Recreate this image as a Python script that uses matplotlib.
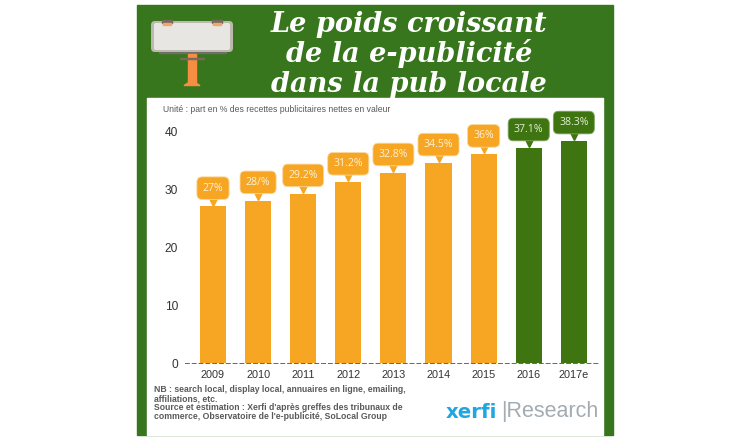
from __future__ import annotations

import matplotlib
matplotlib.use("Agg")
import matplotlib.pyplot as plt
from matplotlib.patches import FancyBboxPatch, Polygon, Rectangle
from matplotlib.transforms import ScaledTranslation

plt.rcParams["font.family"] = ["Liberation Sans", "DejaVu Sans"]

YEARS = ["2009", "2010", "2011", "2012", "2013", "2014", "2015", "2016", "2017e"]
VALUES = [27, 28, 29.2, 31.2, 32.8, 34.5, 36, 37.1, 38.3]
LABELS = ["27%", "28/%", "29.2%", "31.2%", "32.8%", "34.5%", "36%", "37.1%", "38.3%"]
Y_TICKS = [0, 10, 20, 30, 40]
TITLE_LINES = ["Le poids croissant", "de la e-publicité", "dans la pub locale"]
UNIT_TEXT = "Unité : part en % des recettes publicitaires nettes en valeur"
NOTE_LINES = [
    "NB : search local, display local, annuaires en ligne, emailing,",
    "affiliations, etc.",
    "Source et estimation : Xerfi d'après greffes des tribunaux de",
    "commerce, Observatoire de l'e-publicité, SoLocal Group",
]

W, H = 750, 440
GREEN = "#38761d"
DARK_GREEN = "#3f7510"
ORANGE = "#f6a623"
GREY = "#595959"


def draw_background(bg) -> None:
    bg.add_patch(Rectangle((137, 5), 476, 430, color=GREEN))
    bg.add_patch(Rectangle((147, 98), 456, 337, color="white"))

    # billboard
    bg.add_patch(Rectangle((159, 50), 67, 3, color="#6f6f6a"))
    bg.add_patch(FancyBboxPatch((151, 21), 82, 31, boxstyle="round,pad=0,rounding_size=4", fc="#bdb9ae", ec="none"))
    bg.add_patch(FancyBboxPatch((154, 23), 76, 27, boxstyle="round,pad=0,rounding_size=2", fc="#e7e6e3", ec="none"))
    bg.add_patch(Rectangle((162, 20), 10, 3, color="#77695c"))
    bg.add_patch(Rectangle((212, 20), 10, 3, color="#77695c"))
    bg.add_patch(Rectangle((163, 23), 8, 2, color="#f2a66b"))
    bg.add_patch(Rectangle((213, 23), 8, 2, color="#f2a66b"))
    bg.add_patch(Rectangle((188, 54), 8, 29, color="#f58d42"))
    bg.add_patch(Polygon([(184, 85.5), (200, 85.5), (196, 83), (188, 83)], color="#f58d42"))
    bg.add_patch(Rectangle((180, 58), 24, 1.5, color="#77695c"))

    for i, line in enumerate(TITLE_LINES):
        bg.text(409, 32 + i * 30, line, color="white", fontsize=19.5, fontweight="bold", fontstyle="italic",
                family="DejaVu Serif", ha="center", va="baseline")

    bg.text(163, 110, UNIT_TEXT, color=GREY, fontsize=6.2, va="center")

    for i, line in enumerate(NOTE_LINES):
        bg.text(154, 392.5 + i * 8.7, line, color=GREY, fontsize=6.2, fontweight="bold", va="baseline")

    bg.text(446, 412, "xerfi", color="#1ea7e1", fontsize=14.2, fontweight="bold", family="DejaVu Sans", va="center")
    bg.text(501, 412, "|Research", color="#a3acb3", fontsize=15.5, va="center")


def draw_bars(ax) -> None:
    colors = [ORANGE] * 7 + [DARK_GREEN] * 2
    positions = list(range(len(YEARS)))
    ax.bar(positions, VALUES, width=0.577, color=colors)
    ax.set_xlim(-0.62, 8.58)
    ax.set_ylim(0, 40)
    ax.set_xticks(positions, YEARS)
    ax.set_yticks(Y_TICKS)
    ax.tick_params(length=0, labelsize=7.8, colors="#333333")
    ax.tick_params(axis="x", pad=4.5)
    ax.tick_params(axis="y", labelsize=8.6, pad=5)
    for side in ["top", "left", "right"]:
        ax.spines[side].set_visible(False)
    ax.spines["bottom"].set_linestyle((0, (4, 3)))
    ax.spines["bottom"].set_linewidth(0.7)
    ax.spines["bottom"].set_color("#666666")

    # callouts above each bar
    tip = ax.transData + ScaledTranslation(0, 3.5 / 72, ax.figure.dpi_scale_trans)
    for x, val, label, color in zip(positions, VALUES, LABELS, colors):
        ax.plot(x, val, marker="v", ms=6, color=color, clip_on=False, zorder=3, transform=tip)
        ax.annotate(
            label, xy=(x, val), xytext=(0, 13.2), textcoords="offset points",
            ha="center", va="center", color="#fdf1d8" if color == ORANGE else "#e4efd8", fontsize=7.6,
            family="Open Sans", zorder=4,
            bbox=dict(boxstyle="round,pad=0.55,rounding_size=0.5", fc=color,
                      ec="#fad9a0" if color == ORANGE else "#7fa35f", lw=0.6),
        )


def main() -> None:
    fig = plt.figure(figsize=(W / 100, H / 100), dpi=100)
    bg = fig.add_axes([0, 0, 1, 1])
    bg.set_xlim(0, W)
    bg.set_ylim(H, 0)
    bg.axis("off")
    draw_background(bg)

    left, right, top, bottom = 185, 600, 131, 363.3
    ax = fig.add_axes([left / W, 1 - bottom / H, (right - left) / W, (bottom - top) / H])
    ax.patch.set_alpha(0)
    draw_bars(ax)

    fig.savefig("out.png", dpi=100)
    plt.close(fig)


if __name__ == "__main__":
    main()
